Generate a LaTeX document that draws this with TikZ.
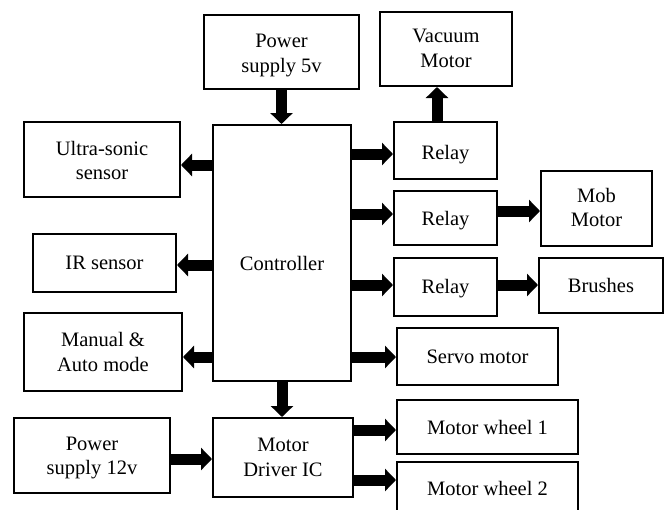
\documentclass[tikz,border=0pt]{standalone}
\usepackage{fontspec}
\setmainfont{Liberation Serif}
\usetikzlibrary{arrows.meta}
\newcommand{\lowtxt}[2]{\raisebox{-#1}[\height][\depth]{\begin{tabular}{@{}c@{}}#2\end{tabular}}}
\begin{document}
\begin{tikzpicture}[x=1pt,y=-1pt,
  blk/.style={draw,line width=2pt,inner sep=0pt,align=center,font=\fontsize{20.5}{24.5}\selectfont},
  arr/.style={line width=11pt,-{Triangle[width=22pt,length=11pt]}}]
\useasboundingbox (0,0) rectangle (667,509);
\fill[white] (0,0) rectangle (667,509);
\node[blk,minimum width=155pt,minimum height=74pt] (p5) at (281.5,52) {\lowtxt{3pt}{Power\\supply 5v}};
\node[blk,minimum width=138pt,minimum height=256pt] (ctrl) at (282,253) {};
\node[font=\fontsize{20.5}{24.5}\selectfont] (ctrltxt) at (282,263) {Controller};
\node[blk,minimum width=156pt,minimum height=75pt] (us) at (102,159.5) {\lowtxt{3pt}{Ultra-sonic\\sensor}};
\node[blk,minimum width=143pt,minimum height=58pt] (ir) at (104.5,263) {\lowtxt{2pt}{IR sensor}};
\node[blk,minimum width=158pt,minimum height=78pt] (man) at (103,352) {\lowtxt{2pt}{Manual \&\\Auto mode}};
\node[blk,minimum width=156pt,minimum height=75pt] (p12) at (92,455.5) {\lowtxt{2pt}{Power\\supply 12v}};
\node[blk,minimum width=140pt,minimum height=79pt] (drv) at (283,457.5) {Motor\\Driver IC};
\node[blk,minimum width=132pt,minimum height=74pt] (vac) at (446,49) {\lowtxt{1pt}{Vacuum\\Motor}};
\node[blk,minimum width=103pt,minimum height=57pt] (r1) at (445.5,150.5) {\lowtxt{4pt}{Relay}};
\node[blk,minimum width=103pt,minimum height=54pt] (r2) at (445.5,218) {\lowtxt{3pt}{Relay}};
\node[blk,minimum width=111pt,minimum height=75pt] (mob) at (596.5,208.5) {\lowtxt{1pt}{Mob\\Motor}};
\node[blk,minimum width=103pt,minimum height=58pt] (r3) at (445.5,287) {\lowtxt{2pt}{Relay}};
\node[blk,minimum width=124pt,minimum height=55pt] (br) at (601,285.5) {Brushes};
\node[blk,minimum width=161pt,minimum height=57pt] (servo) at (477.5,356.5) {Servo motor};
\node[blk,minimum width=181pt,minimum height=54pt] (mw1) at (487.5,427) {Motor wheel 1};
\node[blk,minimum width=181pt,minimum height=54pt,anchor=north] (mw2) at (487.5,461) {};
\node[font=\fontsize{20.5}{24.5}\selectfont] (mw2txt) at (487.5,488) {Motor wheel 2};
% arrows
\draw[arr] (p5.south) -- (p5.south |- ctrl.north);
\draw[arr] (ctrl.west |- 0,165) -- (us.east |- 0,165);
\draw[arr] (ctrl.west |- 0,265) -- (ir.east |- 0,265);
\draw[arr] (ctrl.west |- 0,357) -- (man.east |- 0,357);
\draw[arr] (ctrl.south) -- (ctrl.south |- drv.north);
\draw[arr] (p12.east |- 0,459) -- (drv.west |- 0,459);
\draw[arr] (ctrl.east |- 0,154) -- (r1.west |- 0,154);
\draw[arr] (r1.north -| 437,0) -- (vac.south -| 437,0);
\draw[arr] (ctrl.east |- 0,214) -- (r2.west |- 0,214);
\draw[arr] (r2.east |- 0,211) -- (mob.west |- 0,211);
\draw[arr] (ctrl.east |- 0,285) -- (r3.west |- 0,285);
\draw[arr] (r3.east |- 0,285) -- (br.west |- 0,285);
\draw[arr] (ctrl.east |- 0,357) -- (servo.west |- 0,357);
\draw[arr] (drv.east |- 0,430) -- (mw1.west |- 0,430);
\draw[arr] (drv.east |- 0,480) -- (mw2.west |- 0,480);
\end{tikzpicture}
\end{document}
